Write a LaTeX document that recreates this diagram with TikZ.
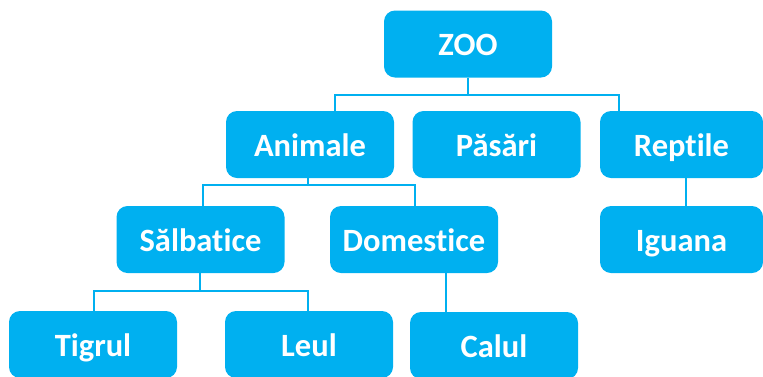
\documentclass[tikz,border=0pt]{standalone}
\usepackage{fontspec}
\setmainfont[Ligatures={NoCommon}]{Carlito}
\definecolor{zcyan}{HTML}{00B0F0}
\tikzset{
  box/.style={fill=zcyan, rounded corners=11pt, minimum width=168pt, minimum height=67pt,
    inner sep=0pt, outer sep=0pt, text=white, text height=23pt, text depth=0pt,
    font=\fontsize{32.5}{36}\selectfont\bfseries},
  conn/.style={draw=zcyan, line width=2pt}
}
\begin{document}
\begin{tikzpicture}[x=1pt,y=1pt]
\useasboundingbox (0,0) rectangle (763,-376);
\node[box] (zoo) at (468,-44) {ZOO};
\node[box] (animale) at (310,-144.5) {Animale};
\node[box] (pasari) at (496.5,-144.5) {Păsări};
\node[box, minimum width=163pt] (reptile) at (681.5,-144.5) {Reptile};
\node[box] (salbatice) at (200.5,-239.5) {Sălbatice};
\node[box] (domestice) at (414,-239.5) {Domestice};
\node[box, minimum width=163pt] (iguana) at (681.5,-239.5) {Iguana};
\node[box] (tigrul) at (93,-344.5) {Tigrul};
\node[box] (leul) at (309,-344.5) {Leul};
\node[box] (calul) at (494,-345.5) {Calul};
% connectors
\coordinate (b1L) at (335,-95);
\coordinate (b1R) at (619,-95);
\coordinate (b2L) at (203,-185);
\coordinate (b2R) at (415,-185);
\coordinate (b3L) at (94,-291);
\coordinate (b3R) at (308,-291);
\draw[conn] (zoo.south) -- (zoo.south |- b1L);
\draw[conn] (animale.north -| b1L) -- (b1L) -- (b1R) -- (reptile.north -| b1R);
\draw[conn] (animale.south -| 308,0) -- (308,-185);
\draw[conn] (salbatice.north -| b2L) -- (b2L) -- (b2R) -- (domestice.north -| b2R);
\draw[conn] (salbatice.south -| 200,0) -- (200,-291);
\draw[conn] (tigrul.north -| b3L) -- (b3L) -- (b3R) -- (leul.north -| b3R);
\draw[conn] (domestice.south -| 446,0) -- (calul.north -| 446,0);
\draw[conn] (reptile.south -| 686,0) -- (iguana.north -| 686,0);
\end{tikzpicture}
\end{document}
